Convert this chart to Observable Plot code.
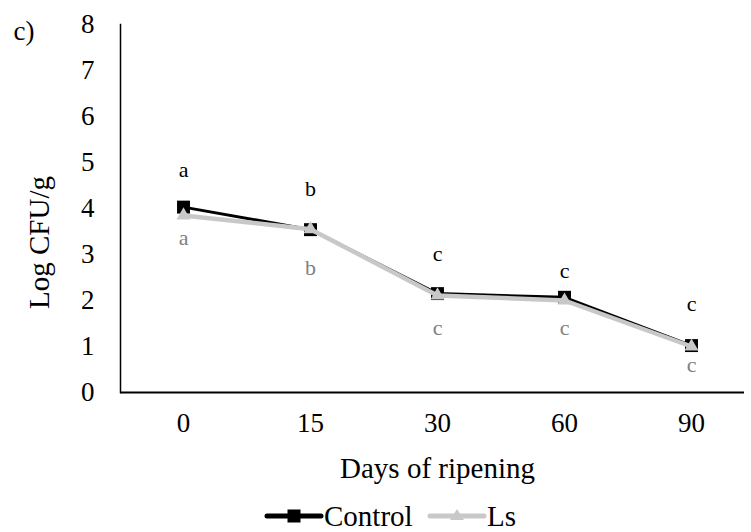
<!DOCTYPE html>
<html>
<head>
<meta charset="utf-8">
<script src="https://cdn.jsdelivr.net/npm/d3@7"></script>
<script src="https://cdn.jsdelivr.net/npm/@observablehq/plot@0.6"></script>
<style>
  html, body { margin: 0; padding: 0; background: #fff; }
  #chart { width: 751px; height: 532px; position: relative; font-family: "Liberation Serif", "Times New Roman", serif; color: #000; }
  #chart > svg { display: block; }
  #legend { display: block; }
</style>
</head>
<body>
<div id="chart"></div>
<script>
// Days of ripening (categories) and log counts for both cheeses
const days = ["0", "15", "30", "60", "90"];
const controlValues = [4.03, 3.54, 2.15, 2.07, 1.02];
const lsValues = [3.85, 3.55, 2.11, 2.00, 1.00];

// Significance letters and the log level each letter sits at
const controlLetters = ["a", "b", "c", "c", "c"];
const lsLetters = ["a", "b", "c", "c", "c"];
const controlLetterAt = [4.83, 4.43, 3.02, 2.65, 1.93];
const lsLetterAt = [3.35, 2.70, 1.40, 1.40, 0.59];

const yTicks = [0, 1, 2, 3, 4, 5, 6, 7, 8];
const seriesNames = ["Control", "Ls"];
const seriesColors = ["#000000", "#c8c8c8"];
const letterColors = ["#000000", "#808080"];

const controlRows = days.map((d, i) => ({day: d, value: controlValues[i], letter: controlLetters[i], at: controlLetterAt[i], series: "Control"}));
const lsRows = days.map((d, i) => ({day: d, value: lsValues[i], letter: lsLetters[i], at: lsLetterAt[i], series: "Ls"}));

const font = "Liberation Serif, Times New Roman, serif";

const plot = Plot.plot({
  width: 751,
  height: 500,
  marginLeft: 120,
  marginRight: 7,
  marginTop: 24,
  marginBottom: 108,
  style: {fontFamily: font, fontSize: "27px", color: "#000", background: "#fff", overflow: "visible"},
  x: {type: "point", domain: days, padding: 0.45, align: 0.54},
  y: {domain: [0, 8]},
  color: {domain: seriesNames, range: seriesColors},
  marks: [
    Plot.axisY({ticks: yTicks, tickSize: 0, tickPadding: 26, label: null, fontSize: 27}),
    Plot.axisX({tickSize: 0, tickPadding: 20, label: null, fontSize: 27}),
    Plot.frame({anchor: "left", stroke: "#000", strokeWidth: 1.5}),
    Plot.ruleY([0], {stroke: "#000", strokeWidth: 2}),
    // Control series
    Plot.line(controlRows, {x: "day", y: "value", stroke: "series", strokeWidth: 3}),
    Plot.dot(controlRows, {x: "day", y: "value", symbol: "square", r: 7.3, fill: "series", stroke: "none"}),
    // Ls series
    Plot.line(lsRows, {x: "day", y: "value", stroke: "series", strokeWidth: 4.5}),
    Plot.dot(lsRows, {x: "day", y: "value", symbol: "triangle", r: 5.2, fill: "series", stroke: "none"}),
    // Significance letters
    Plot.text(controlRows, {x: "day", y: "at", text: "letter", fill: letterColors[0], fontSize: 22}),
    Plot.text(lsRows, {x: "day", y: "at", text: "letter", fill: letterColors[1], fontSize: 22}),
    // Panel tag and axis titles
    Plot.text(["c)"], {frameAnchor: "top-left", text: d => d, textAnchor: "start", lineAnchor: "middle", dx: -107, dy: 7, fontSize: 27}),
    Plot.text(["Log CFU/g"], {frameAnchor: "left", text: d => d, textAnchor: "middle", lineAnchor: "middle", rotate: -90, dx: -81, dy: 34, fontSize: 29}),
    Plot.text(["Days of ripening"], {frameAnchor: "bottom", text: d => d, textAnchor: "middle", lineAnchor: "middle", dx: 5, dy: 76, fontSize: 29})
  ]
});

const chart = document.getElementById("chart");
chart.appendChild(plot);

// Legend: line swatch with the series marker, then the series name
const ns = "http://www.w3.org/2000/svg";
const legend = document.createElementNS(ns, "svg");
legend.id = "legend";
legend.setAttribute("width", 751);
legend.setAttribute("height", 32);
legend.setAttribute("font-family", font);
legend.setAttribute("font-size", 29);
const swatchStart = [265, 428];
const swatchWidth = 58;
seriesNames.forEach((name, i) => {
  const x0 = swatchStart[i];
  const g = document.createElementNS(ns, "g");
  const line = document.createElementNS(ns, "line");
  line.setAttribute("x1", x0 + 2); line.setAttribute("x2", x0 + swatchWidth - 2);
  line.setAttribute("y1", 16); line.setAttribute("y2", 16);
  line.setAttribute("stroke", seriesColors[i]);
  line.setAttribute("stroke-width", 5);
  line.setAttribute("stroke-linecap", "round");
  g.appendChild(line);
  const cx = x0 + swatchWidth / 2;
  const marker = document.createElementNS(ns, "path");
  marker.setAttribute("d", i === 0
    ? `M${cx - 6.5},9.5h13v13h-13z`
    : `M${cx},9l7,11h-14z`);
  marker.setAttribute("fill", seriesColors[i]);
  g.appendChild(marker);
  const label = document.createElementNS(ns, "text");
  label.setAttribute("x", x0 + swatchWidth + 1);
  label.setAttribute("y", 16);
  label.setAttribute("dy", "0.35em");
  label.setAttribute("fill", "#000");
  label.textContent = name;
  g.appendChild(label);
  legend.appendChild(g);
});
chart.appendChild(legend);
</script>
</body>
</html>
